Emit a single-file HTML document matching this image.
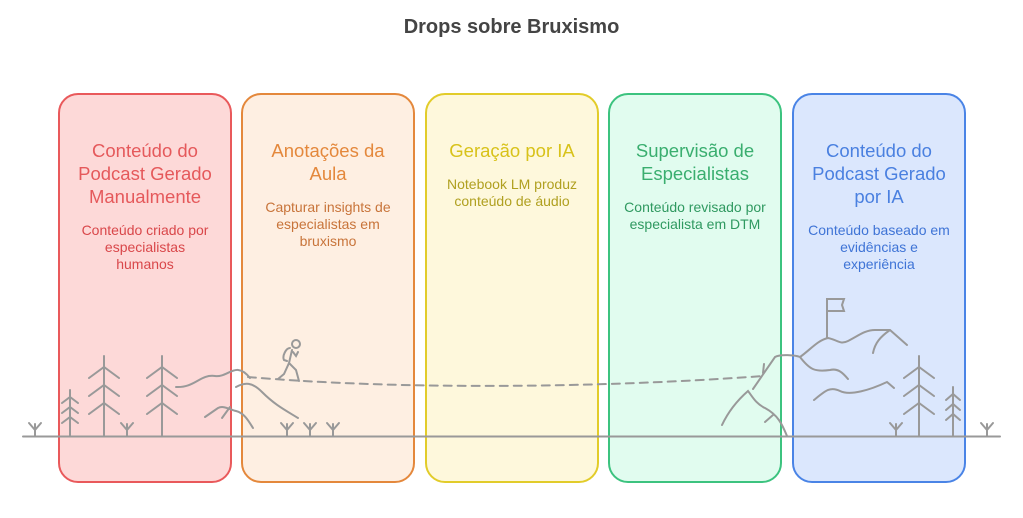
<!DOCTYPE html>
<html><head><meta charset="utf-8"><style>
body{margin:0;width:1023px;height:518px;background:#fff;position:relative;overflow:hidden;font-family:"Liberation Sans",Arial,sans-serif}
h1{position:absolute;top:16px;left:0;width:1023px;text-align:center;font-size:20px;font-weight:bold;color:#444;margin:0}
.b{position:absolute;top:93px;width:174px;height:390px;border:2px solid;border-radius:20px;box-sizing:border-box;text-align:center;white-space:nowrap}
.t{margin-top:44px;font-size:18.5px;line-height:23px}
.d{margin-top:14px;font-size:14px;line-height:17px}
svg{position:absolute;left:0;top:0}
</style></head><body>
<h1>Drops sobre Bruxismo</h1>
<div class="b" style="left:58px;background:#fdd9d8;border-color:#e9595b;color:#e5595b"><div class="t">Conteúdo do<br>Podcast Gerado<br>Manualmente</div><div class="d" style="color:#d9474a">Conteúdo criado por<br>especialistas<br>humanos</div></div>
<div class="b" style="left:241px;background:#feefe2;border-color:#e4883c;color:#e4883c"><div class="t">Anotações da<br>Aula</div><div class="d" style="color:#c8743a">Capturar insights de<br>especialistas em<br>bruxismo</div></div>
<div class="b" style="left:425px;background:#fef8dc;border-color:#e2cc2a;color:#d8c21a"><div class="t">Geração por IA</div><div class="d" style="color:#b0a020">Notebook LM produz<br>conteúdo de áudio</div></div>
<div class="b" style="left:608px;background:#e1fcef;border-color:#3cc37f;color:#3aae6f"><div class="t">Supervisão de<br>Especialistas</div><div class="d" style="color:#2f9960">Conteúdo revisado por<br>especialista em DTM</div></div>
<div class="b" style="left:792px;background:#dbe7fd;border-color:#4a84e6;color:#4a80e0"><div class="t">Conteúdo do<br>Podcast Gerado<br>por IA</div><div class="d" style="color:#3f74d6">Conteúdo baseado em<br>evidências e<br>experiência</div></div>
<svg width="1023" height="518" fill="none" stroke="#999" stroke-width="2" stroke-linecap="round">
<line x1="23" y1="436.5" x2="1000" y2="436.5"/>
<g id="g"><path d="M35 436V424M29 423L35 430L41 423"/></g>
<use href="#g" x="92"/><use href="#g" x="252"/><use href="#g" x="275"/><use href="#g" x="298"/><use href="#g" x="861"/><use href="#g" x="952"/>
<path d="M70 436V390M62 403L70 397L78 403M62 413L70 407L78 413M62 423L70 417L78 423"/>
<g id="t"><path d="M104 436V356M89 378L104 367L119 378M89 396L104 385L119 396M89 414L104 403L119 414"/></g>
<use href="#t" x="58"/><use href="#t" x="815"/>
<path d="M953 436V387M946 400L953 394L960 400M946 410L953 404L960 410M946 420L953 414L960 420"/>
<path d="M176 387C195 388 200 374 215 376C228 378 236 360 250 378"/>
<path d="M236 387C245 382 252 382 262 392C275 405 285 410 298 418"/>
<path d="M205 417L218 408C224 405 230 410 236 411C244 413 248 420 253 428M222 418L230 407"/>
<path d="M248 377C400 390 600 388 763 376" stroke-dasharray="8 6"/>
<circle cx="296" cy="344" r="4"/>
<path d="M292 350L289 363L284 374L278 379M289 363L296 370L299 381M290 348C286 348 282 356 284 360L287 361M293 352L296 356L298 352"/>
<path d="M722 425C730 408 740 398 748 391C752 396 756 404 765 408C778 415 782 424 787 436M765 422L773 415M753 389L775 357C780 354 795 355 800 357C810 350 818 340 828 338C838 340 840 345 848 341C858 336 865 330 875 330L890 330L907 345M800 357C810 370 815 372 830 370C838 368 843 373 848 379M814 400C825 391 830 386 840 391C850 396 870 390 887 382L894 388M873 353C875 343 880 337 890 330M827 338V299H844L842 305L844 311H827M764 364L763 373"/>
</svg>
</body></html>
